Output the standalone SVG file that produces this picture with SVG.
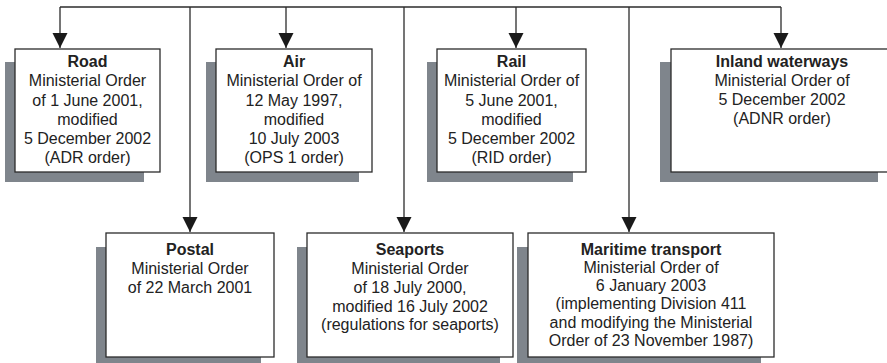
<svg xmlns="http://www.w3.org/2000/svg" width="887" height="363" viewBox="0 0 887 363">
<style>
.sh{fill:#7f858c}
.bx{fill:#fff;stroke:#2b2b2b;stroke-width:1.3}
.c{fill:none;stroke:#2b2b2b;stroke-width:1.3}
text{font-family:"Liberation Sans",Arial,sans-serif;font-size:16px;fill:#222;text-anchor:middle}
.t{font-weight:bold}
</style>
<defs>
<marker id="ah" markerUnits="userSpaceOnUse" markerWidth="16" markerHeight="16" viewBox="0 0 16 16" refX="15" refY="8" orient="auto">
<path d="M0,0.5 L15,8 L0,15.5 Z" fill="#1a1a1a"/>
</marker>
</defs>
<g id="connectors">
<path class="c" d="M60,7 H781"/>
<path class="c" d="M60,7 V48" marker-end="url(#ah)"/>
<path class="c" d="M286,7 V48" marker-end="url(#ah)"/>
<path class="c" d="M516,7 V48" marker-end="url(#ah)"/>
<path class="c" d="M781,7 V48" marker-end="url(#ah)"/>
<path class="c" d="M190,7 V232" marker-end="url(#ah)"/>
<path class="c" d="M404,7 V232" marker-end="url(#ah)"/>
<path class="c" d="M629,7 V232" marker-end="url(#ah)"/>
</g>
<g id="road">
<rect class="sh" x="5" y="62" width="139" height="120"/>
<rect class="bx" x="15" y="49" width="145" height="123"/>
<text x="87.5" y="66.5" class="t">Road</text>
<text x="87.5" y="86">Ministerial Order</text>
<text x="87.5" y="105.5">of 1 June 2001,</text>
<text x="87.5" y="124.5">modified</text>
<text x="87.5" y="144">5 December 2002</text>
<text x="87.5" y="163">(ADR order)</text>
</g>
<g id="air">
<rect class="sh" x="206" y="62" width="153" height="120"/>
<rect class="bx" x="216" y="49" width="156" height="123"/>
<text x="294" y="66.5" class="t">Air</text>
<text x="294" y="86">Ministerial Order of</text>
<text x="294" y="105.5">12 May 1997,</text>
<text x="294" y="124.5">modified</text>
<text x="294" y="144">10 July 2003</text>
<text x="294" y="163">(OPS 1 order)</text>
</g>
<g id="rail">
<rect class="sh" x="427" y="62" width="146" height="120"/>
<rect class="bx" x="437" y="49" width="149" height="123"/>
<text x="511.5" y="66.5" class="t">Rail</text>
<text x="511.5" y="86">Ministerial Order of</text>
<text x="511.5" y="105.5">5 June 2001,</text>
<text x="511.5" y="124.5">modified</text>
<text x="511.5" y="144">5 December 2002</text>
<text x="511.5" y="163">(RID order)</text>
</g>
<g id="inland">
<rect class="sh" x="660" y="62" width="218" height="120"/>
<rect class="bx" x="671" y="49" width="224" height="123"/>
<text x="782" y="66.5" class="t">Inland waterways</text>
<text x="782" y="86">Ministerial Order of</text>
<text x="782" y="105">5 December 2002</text>
<text x="782" y="124">(ADNR order)</text>
</g>
<g id="postal">
<rect class="sh" x="96" y="247" width="165" height="120"/>
<rect class="bx" x="106" y="233" width="168" height="124"/>
<text x="190" y="255" class="t">Postal</text>
<text x="190" y="274">Ministerial Order</text>
<text x="190" y="293">of 22 March 2001</text>
</g>
<g id="seaports">
<rect class="sh" x="297" y="247" width="203" height="120"/>
<rect class="bx" x="307" y="233" width="206" height="124"/>
<text x="410" y="255" class="t">Seaports</text>
<text x="410" y="274">Ministerial Order</text>
<text x="410" y="293">of 18 July 2000,</text>
<text x="410" y="311.5">modified 16 July 2002</text>
<text x="410" y="330">(regulations for seaports)</text>
</g>
<g id="maritime">
<rect class="sh" x="517" y="247" width="244" height="120"/>
<rect class="bx" x="528" y="233" width="246" height="124"/>
<text x="651" y="254.5" class="t">Maritime transport</text>
<text x="651" y="272.8">Ministerial Order of</text>
<text x="651" y="291">6 January 2003</text>
<text x="651" y="309.3">(implementing Division 411</text>
<text x="651" y="327.5">and modifying the Ministerial</text>
<text x="651" y="345.8">Order of 23 November 1987)</text>
</g>
</svg>
